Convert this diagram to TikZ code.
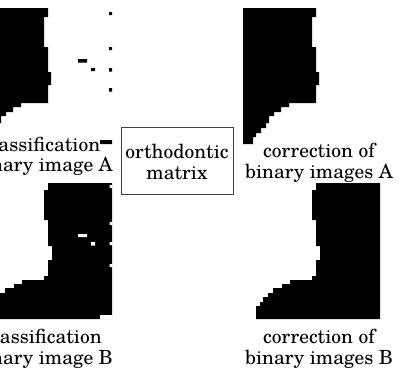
\documentclass[tikz,border=0pt]{standalone}
\usepackage{fontspec}
\setmainfont{texgyreschola}[Extension=.otf, UprightFont=*-regular, BoldFont=*-bold]
\begin{document}
\begin{tikzpicture}[x=1pt,y=-1pt,
  lbl/.style={align=center, inner sep=0pt, font=\fontsize{19.5}{21}\selectfont},
  cut/.style={anchor=base east, inner sep=0pt, font=\fontsize{19.5}{21}\selectfont},
  matbox/.style={draw=black!75, line width=0.8pt, inner sep=0pt},
  shapeA/.pic={\fill[black] (243,8)--(316,8)--(316,17)--(312,17)--(312,47)--(316,47)--(316,72)--(319,72)--(319,85)--(316,85)--(316,103)--(289,103)--(289,107)--(281,107)--(281,112)--(274,112)--(274,116)--(269,116)--(269,123)--(266,123)--(266,128)--(261,128)--(261,133)--(256,133)--(256,137)--(253,137)--(253,144)--(243,144)--cycle;},
  shapeB/.pic={\fill[black] (316,183)--(380,183)--(380,319)--(256,319)--(256,306)--(260,306)--(260,302)--(263,302)--(263,297)--(268,297)--(268,293)--(273,293)--(273,288)--(282,288)--(282,284)--(290,284)--(290,280)--(312,280)--(312,276)--(316,276)--(316,260)--(320,260)--(320,246)--(316,246)--(316,220)--(312,220)--(312,190)--(316,190)--cycle;}
]
\useasboundingbox (0,0) rectangle (399,368);
\clip (0,0) rectangle (399,368);
% corrected images
\pic at (0,0) {shapeA};
\pic at (0,0) {shapeB};
% classification images
\pic at (-268,0) {shapeA};
\pic at (-268,0) {shapeB};
% noise in classification A
\fill[black] (109,12) rectangle (112,15) (109,47) rectangle (112,50) (109,68) rectangle (112,71.5) (109,88) rectangle (112,91.5) (78,59) rectangle (87,62.5) (91,68) rectangle (95,71) (100,140) rectangle (112,144);
% holes in classification B
\fill[white] (109.5,185) rectangle (112.5,188) (109.5,222) rectangle (112.5,225) (109.5,242) rectangle (112.5,245) (109.5,264) rectangle (112.5,267) (78,234) rectangle (87,237) (91,242) rectangle (95,245.5) (100,315) rectangle (112.5,319.5);
% orthodontic matrix
\node[matbox, minimum width=112pt, minimum height=67pt] (om) at (177,160.5) {};
\node[lbl] (omt) at (177,161.5) {orthodontic\\matrix};
% labels
\node[cut] (cA1) at (100.5,151.5) {assification};
\node[cut] (cA2) at (113,171.5) {nary image A};
\node[lbl] (rA) at (319,162.75) {correction of\\binary images A};
\node[cut] (cB1) at (102,343.5) {assification};
\node[cut] (cB2) at (113,364) {nary image B};
\node[lbl] (rB) at (319,349) {correction of\\binary images B};
\end{tikzpicture}
\end{document}
